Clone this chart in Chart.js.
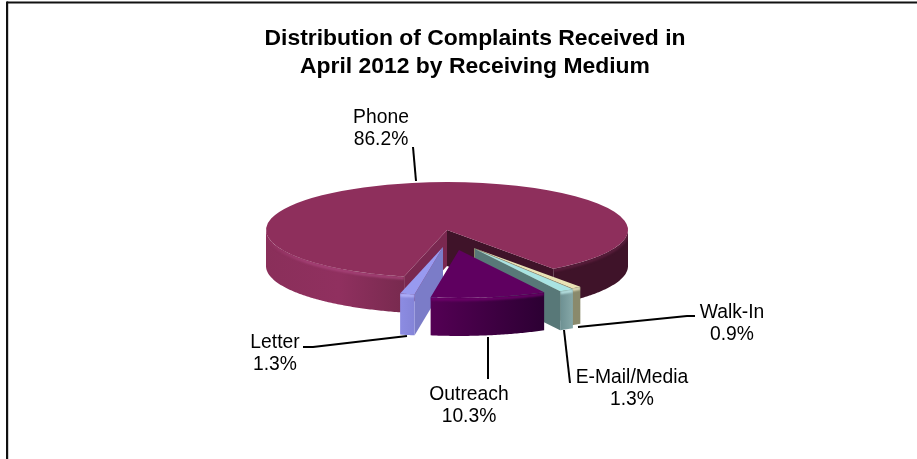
<!DOCTYPE html>
<html>
<head>
<meta charset="utf-8">
<title>Complaints by receiving medium</title>
<script src="https://cdn.jsdelivr.net/npm/chart.js@4/dist/chart.umd.min.js"></script>
<style>
  html, body { margin: 0; padding: 0; background: #fff; }
  canvas { display: block; }
</style>
</head>
<body>
<canvas id="chart" width="917" height="459"></canvas>
<script>
// Complaint counts by medium, as percentage shares
const categories = ['Phone', 'Walk-In', 'E-Mail/Media', 'Outreach', 'Letter'];
const shares = [86.2, 0.9, 1.3, 10.3, 1.3];
const titleLines = ['Distribution of Complaints Received in', 'April 2012 by Receiving Medium'];

// Slice colours
const topColours = ['#8e2f5c', '#e9e2b5', '#a9e3e3', '#5f0060', '#989af0'];
const rimColours = [
  [[0, '#8a2f5a'], [0.2, '#90305f'], [0.38, '#782a4f'], [0.78, '#3f1329'], [1, '#3f1329']],
  [[0, '#8a8a6c'], [1, '#8a8a6c']],
  [[0, '#6d9092'], [1, '#86a8a8']],
  [[0, '#540054'], [1, '#2c0033']],
  [[0, '#8c8ce2'], [1, '#8484d8']]
];
const wallColours = [
  ['#7a2850', '#3f1329'],
  ['#8a8a6c', '#8a8a6c'],
  ['#587878', '#587878'],
  ['#4a004a', '#4a004a'],
  ['#7b7cc8', '#7b7cc8']
];
const edgeGlints = ['#a8447a', '#f2edc8', '#c4f0f0', '#72006f', '#b8b8ff'];

// Exploded-pie layout, in pixels on the page
const pieRadius = 181;
const pieSquash = 0.265;
const sliceDepth = [36, 37, 39, 38, 41];
const pieNudge = [-28, -43];
const sliceDrift = [[0, 0], [27, 18], [28, 19], [12, 20], [-4, 17]];
const paintOrder = [0, 1, 4, 2, 3];

// Labels and their leader lines
const labelCentres = [[381, 118], [732, 313], [632, 378], [469, 395], [275, 343]];
const leaderLines = [
  [[413, 147], [416, 181]],
  [[578, 327], [687, 316], [695, 316]],
  [[564, 330], [570, 383]],
  [[488, 337], [488, 379]],
  [[303, 347], [313, 347], [407, 336]]
];

const fontFamily = '"Liberation Sans", Arial, sans-serif';

const page3dPie = {
  id: 'page3dPie',
  beforeDraw(chart) {
    const ctx = chart.ctx;
    ctx.save();
    ctx.fillStyle = '#fff';
    ctx.fillRect(0, 0, chart.width, chart.height);
    // Frame: only the top and left rules fall on the page
    ctx.fillStyle = '#111';
    ctx.fillRect(7, 1.5, chart.width - 7, 2);
    ctx.fillRect(6, 1.5, 2.2, chart.height);
    ctx.restore();
  },
  beforeDatasetsDraw(chart) {
    const ctx = chart.ctx;
    const arcs = chart.getDatasetMeta(0).data;
    paintOrder.forEach((i) => drawSlice(ctx, arcs[i], i));
    return false;
  },
  afterDraw(chart) {
    const ctx = chart.ctx;
    ctx.save();
    ctx.strokeStyle = '#000';
    ctx.lineWidth = 2;
    ctx.lineJoin = 'round';
    leaderLines.forEach((pts) => {
      ctx.beginPath();
      pts.forEach((p, k) => (k ? ctx.lineTo(p[0], p[1]) : ctx.moveTo(p[0], p[1])));
      ctx.stroke();
    });
    ctx.fillStyle = '#000';
    ctx.font = '19.3px ' + fontFamily;
    ctx.textAlign = 'center';
    ctx.textBaseline = 'middle';
    categories.forEach((name, i) => {
      const [x, y] = labelCentres[i];
      ctx.fillText(name, x, y);
      ctx.fillText(shares[i].toFixed(1) + '%', x, y + 22);
    });
    ctx.restore();
  }
};

function drawSlice(ctx, arc, i) {
  const ox = arc.x + pieNudge[0] + sliceDrift[i][0];
  const oy = arc.y + pieNudge[1] + sliceDrift[i][1];
  const r = arc.outerRadius;
  const depth = sliceDepth[i];
  const at = (a, d) => [ox + r * Math.cos(a), oy + pieSquash * r * Math.sin(a) + d];

  // Cut faces that look towards the viewer
  const wall = (a, colour) => {
    const p = at(a, 0), q = at(a, depth);
    ctx.fillStyle = colour;
    ctx.beginPath();
    ctx.moveTo(ox, oy);
    ctx.lineTo(p[0], p[1]);
    ctx.lineTo(q[0], q[1]);
    ctx.lineTo(ox, oy + depth);
    ctx.closePath();
    ctx.fill();
  };
  if (-Math.cos(arc.startAngle) > 0) wall(arc.startAngle, wallColours[i][0]);
  if (Math.cos(arc.endAngle) > 0) wall(arc.endAngle, wallColours[i][1]);

  // Outer rim, on the front half of the ellipse only
  const span = [arc.startAngle, arc.endAngle];
  const tau = Math.PI * 2;
  for (let n = -1; n <= 2; n++) {
    const lo = Math.max(span[0], n * tau);
    const hi = Math.min(span[1], Math.PI + n * tau);
    if (hi <= lo) continue;
    const trace = (d, from, to) => {
      const steps = Math.max(2, Math.ceil(Math.abs(to - from) * 90));
      for (let s = 0; s <= steps; s++) {
        const p = at(from + (to - from) * s / steps, d);
        ctx.lineTo(p[0], p[1]);
      }
    };
    const rimBand = () => {
      ctx.beginPath();
      trace(0, lo, hi);
      trace(depth, hi, lo);
      ctx.closePath();
    };
    const xs = [at(span[0], 0)[0], at(span[1], 0)[0], at(lo, 0)[0], at(hi, 0)[0]];
    const xa = i === 0 ? ox - r : Math.min(...xs);
    const xb = i === 0 ? ox + r : Math.max(...xs);
    const g = ctx.createLinearGradient(xa, 0, xb, 0);
    rimColours[i].forEach((s) => g.addColorStop(s[0], s[1]));
    ctx.fillStyle = g;
    rimBand();
    ctx.fill();

    // Light catching the bevel under the top face, kept inside the rim
    const glint = ctx.createLinearGradient(xa, 0, xb, 0);
    if (i === 0) {
      glint.addColorStop(0, '#8e2f5c');
      glint.addColorStop(0.12, edgeGlints[i]);
      glint.addColorStop(0.4, edgeGlints[i]);
      glint.addColorStop(0.78, '#5e1f3f');
      glint.addColorStop(1, '#5e1f3f');
    } else {
      glint.addColorStop(0, edgeGlints[i]);
      glint.addColorStop(1, edgeGlints[i]);
    }
    ctx.save();
    rimBand();
    ctx.clip();
    ctx.filter = 'blur(1px)';
    ctx.strokeStyle = glint;
    ctx.lineWidth = 2.5;
    ctx.beginPath();
    trace(1.5, lo, hi);
    ctx.stroke();
    ctx.restore();
  }

  // Top face comes from the library's own arc element, squashed onto the ellipse
  ctx.save();
  ctx.translate(ox, oy);
  ctx.scale(1, pieSquash);
  ctx.translate(-arc.x, -arc.y);
  arc.draw(ctx);
  ctx.restore();
}

new Chart(document.getElementById('chart'), {
  type: 'pie',
  data: {
    labels: categories,
    datasets: [{
      data: shares,
      backgroundColor: topColours,
      borderWidth: 0,
      radius: pieRadius
    }]
  },
  plugins: [page3dPie],
  options: {
    responsive: false,
    animation: false,
    rotation: 193.7,
    layout: { padding: { left: 33 } },
    plugins: {
      legend: { display: false },
      tooltip: { enabled: false },
      title: {
        display: true,
        text: titleLines,
        color: '#000',
        font: { family: fontFamily, size: 22.9, weight: 'bold', lineHeight: 1.2 },
        padding: { top: 25, bottom: 7 }
      }
    }
  }
});
</script>
</body>
</html>
